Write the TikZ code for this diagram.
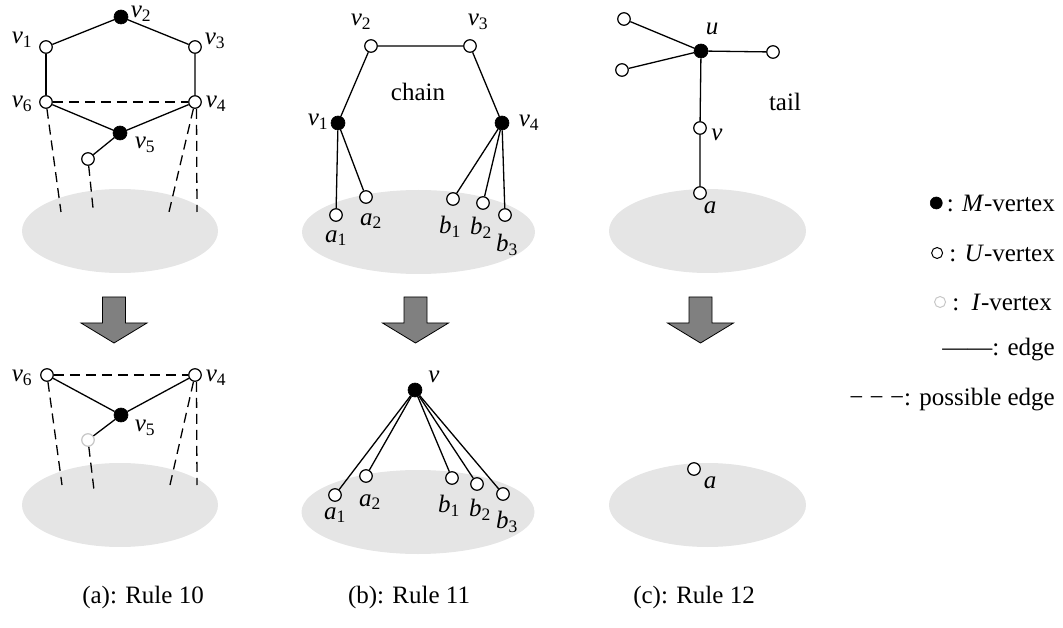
\documentclass[tikz,border=0pt]{standalone}
\usepackage{fontspec}
\setmainfont{Liberation Serif}
\newcommand\vl[2]{\textit{#1}\textsubscript{#2}}
\tikzset{
  x=1pt, y=-1pt,
  every node/.style={font=\fontsize{25}{30}\selectfont},
  uv/.style={circle, draw=black, fill=white, line width=1.2pt, inner sep=0pt, minimum size=12.5pt},
  mv/.style={circle, draw=black, fill=black, line width=0.6pt, inner sep=0pt, minimum size=14pt},
  iv/.style={uv, draw=black!22},
  lab/.style={inner sep=0pt},
  edge/.style={line width=1.3pt},
  pedge/.style={line width=1.3pt, dash pattern=on 10pt off 6pt},
  blob/.style={fill=black!10, draw=none},
  bigdown/.pic={\draw[line width=0.8pt, fill=black!50] (-11.5,0) -- (11.5,0) -- (11.5,26) -- (33,26) -- (0,46) -- (-33,26) -- (-11.5,26) -- cycle;}
}
\begin{document}
\begin{tikzpicture}
\useasboundingbox (0,0) rectangle (1063,628);
% ===== ellipses =====
\fill[blob] (120,231) ellipse [x radius=98, y radius=42];
\fill[blob] (418.5,232) ellipse [x radius=116.5, y radius=42];
\fill[blob] (707.5,231) ellipse [x radius=98.5, y radius=42];
\fill[blob] (120,505) ellipse [x radius=98, y radius=42];
\fill[blob] (418,512) ellipse [x radius=116.5, y radius=42];
\fill[blob] (707.5,505) ellipse [x radius=98.5, y radius=42];

% ===== (a) top =====
\node[mv] (a2) at (121,17) {};
\node[uv] (a1) at (46,47) {};
\node[uv] (a3) at (195,47) {};
\node[uv] (a6) at (46,102) {};
\node[uv] (a4) at (195,102) {};
\node[mv] (a5) at (120,133) {};
\node[uv] (ax) at (88,159) {};
\coordinate (ae1) at (61,212);
\coordinate (ae2) at (93,208);
\coordinate (ae3) at (169,212);
\coordinate (ae4) at (197,212);
\draw[edge] (a1) -- (a2) -- (a3) -- (a4);
\draw[edge] (a1) -- (a6);
\draw[edge] (a6) -- (a5) -- (a4);
\draw[edge] (a5) -- (ax);
\draw[pedge] (a6) -- (a4);
\draw[pedge] (a6) -- (ae1);
\draw[pedge] (ax) -- (ae2);
\draw[pedge] (a4) -- (ae3);
\draw[pedge] ([xshift=1.5pt]a4.south) -- (ae4);
\node[lab] (la1) at (22,40) {\vl{v}{1}};
\node[lab] (la2) at (141,14) {\vl{v}{2}};
\node[lab] (la3) at (215,41) {\vl{v}{3}};
\node[lab] (la6) at (22,104) {\vl{v}{6}};
\node[lab] (la4) at (216,104) {\vl{v}{4}};
\node[lab] (la5) at (145,145) {\vl{v}{5}};

% ===== (a) bottom =====
\node[uv] (b6) at (47,375) {};
\node[uv] (b4) at (195,375) {};
\node[mv] (b5) at (121,415) {};
\node[iv] (bx) at (88,440) {};
\coordinate (be1) at (62,485);
\coordinate (be2) at (94,490);
\coordinate (be3) at (170,485);
\coordinate (be4) at (197,485);
\draw[edge] (b6) -- (b5) -- (b4);
\draw[edge] (b5) -- (bx);
\draw[pedge] (b6) -- (b4);
\draw[pedge] (b6) -- (be1);
\draw[pedge] (bx) -- (be2);
\draw[pedge] (b4) -- (be3);
\draw[pedge] ([xshift=1.5pt]b4.south) -- (be4);
\node[lab] (lb6) at (22,378) {\vl{v}{6}};
\node[lab] (lb4) at (216,378) {\vl{v}{4}};
\node[lab] (lb5) at (145,428) {\vl{v}{5}};

% ===== (b) top =====
\node[uv] (c2) at (371,46) {};
\node[uv] (c3) at (470,46) {};
\node[mv] (c1) at (338,123) {};
\node[mv] (c4) at (502,123) {};
\node[uv] (ca1) at (336,215) {};
\node[uv] (ca2) at (366,197) {};
\node[uv] (cb1) at (453,199) {};
\node[uv] (cb2) at (483,203) {};
\node[uv] (cb3) at (505,215) {};
\draw[edge] (c1) -- (c2) -- (c3) -- (c4);
\draw[edge] (c1) -- (ca1);
\draw[edge] (c1) -- (ca2);
\draw[edge] (c4) -- (cb1);
\draw[edge] (c4) -- (cb2);
\draw[edge] (c4) -- (cb3);
\node[lab] (lc2) at (361,22) {\vl{v}{2}};
\node[lab] (lc3) at (478,22) {\vl{v}{3}};
\node[lab] (lc1) at (318,122) {\vl{v}{1}};
\node[lab] (lc4) at (529,123) {\vl{v}{4}};
\node[lab] (chain) at (418,92) {chain};
\node[lab] (lca1) at (336,238) {\vl{a}{1}};
\node[lab] (lca2) at (371,221) {\vl{a}{2}};
\node[lab] (lcb1) at (450,227) {\vl{b}{1}};
\node[lab] (lcb2) at (481,228) {\vl{b}{2}};
\node[lab] (lcb3) at (507,245) {\vl{b}{3}};

% ===== (b) bottom =====
\node[mv] (d) at (415,390) {};
\node[uv] (da1) at (335,495) {};
\node[uv] (da2) at (366,476) {};
\node[uv] (db1) at (452,478) {};
\node[uv] (db2) at (477,484) {};
\node[uv] (db3) at (503,494) {};
\draw[edge] (d) -- (da1);
\draw[edge] (d) -- (da2);
\draw[edge] (d) -- (db1);
\draw[edge] (d) -- (db2);
\draw[edge] (d) -- (db3);
\node[lab] (ld) at (434,377) {\textit{v}};
\node[lab] (lda1) at (335,515) {\vl{a}{1}};
\node[lab] (lda2) at (370,502) {\vl{a}{2}};
\node[lab] (ldb1) at (449,506) {\vl{b}{1}};
\node[lab] (ldb2) at (480,510) {\vl{b}{2}};
\node[lab] (ldb3) at (507,522) {\vl{b}{3}};

% ===== (c) top =====
\node[mv] (u) at (701,51) {};
\node[uv] (l1) at (624,19) {};
\node[uv] (l2) at (622,70) {};
\node[uv] (l3) at (773,52) {};
\node[uv] (ev) at (700,128) {};
\node[uv] (ea) at (700,193) {};
\draw[edge] (u) -- (l1);
\draw[edge] (u) -- (l2);
\draw[edge] (u) -- (l3);
\draw[edge] (u) -- (ev) -- (ea);
\node[lab] (lu) at (712,29) {\textit{u}};
\node[lab] (tail) at (785,102) {tail};
\node[lab] (lev) at (717,135) {\textit{v}};
\node[lab] (lea) at (710,208) {\textit{a}};

% ===== (c) bottom =====
\node[uv] (fa) at (694,469) {};
\node[lab] (lfa) at (710,483) {\textit{a}};

% ===== arrows =====
\pic at (114,297) {bigdown};
\pic at (415.5,297) {bigdown};
\pic at (700.5,297) {bigdown};

% ===== legend =====
\node[lab, anchor=east] (g1) at (1055,203) {: \textit{M}-vertex};
\node[mv, minimum size=12pt, anchor=east] (g1s) at ([xshift=-4pt]g1.west) {};
\node[lab, anchor=east] (g2) at (1055,253) {: \textit{U}-vertex};
\node[uv, minimum size=11pt, line width=1pt, anchor=east] (g2s) at ([xshift=-6pt]g2.west) {};
\node[lab, anchor=east] (g3) at (1052,302) {:\ \ \textit{I}-vertex};
\node[iv, minimum size=11pt, line width=1pt, anchor=east] (g3s) at ([xshift=-6pt]g3.west) {};
\node[lab, anchor=east] (g4) at (1055,350) {——: edge};
\node[lab, anchor=east] (g5) at (1055,400) {− − −: possible edge};

% ===== captions =====
\node[lab] (capa) at (143,597) {(a): Rule 10};
\node[lab] (capb) at (409,597) {(b): Rule 11};
\node[lab] (capc) at (694,597) {(c): Rule 12};
\end{tikzpicture}
\end{document}
